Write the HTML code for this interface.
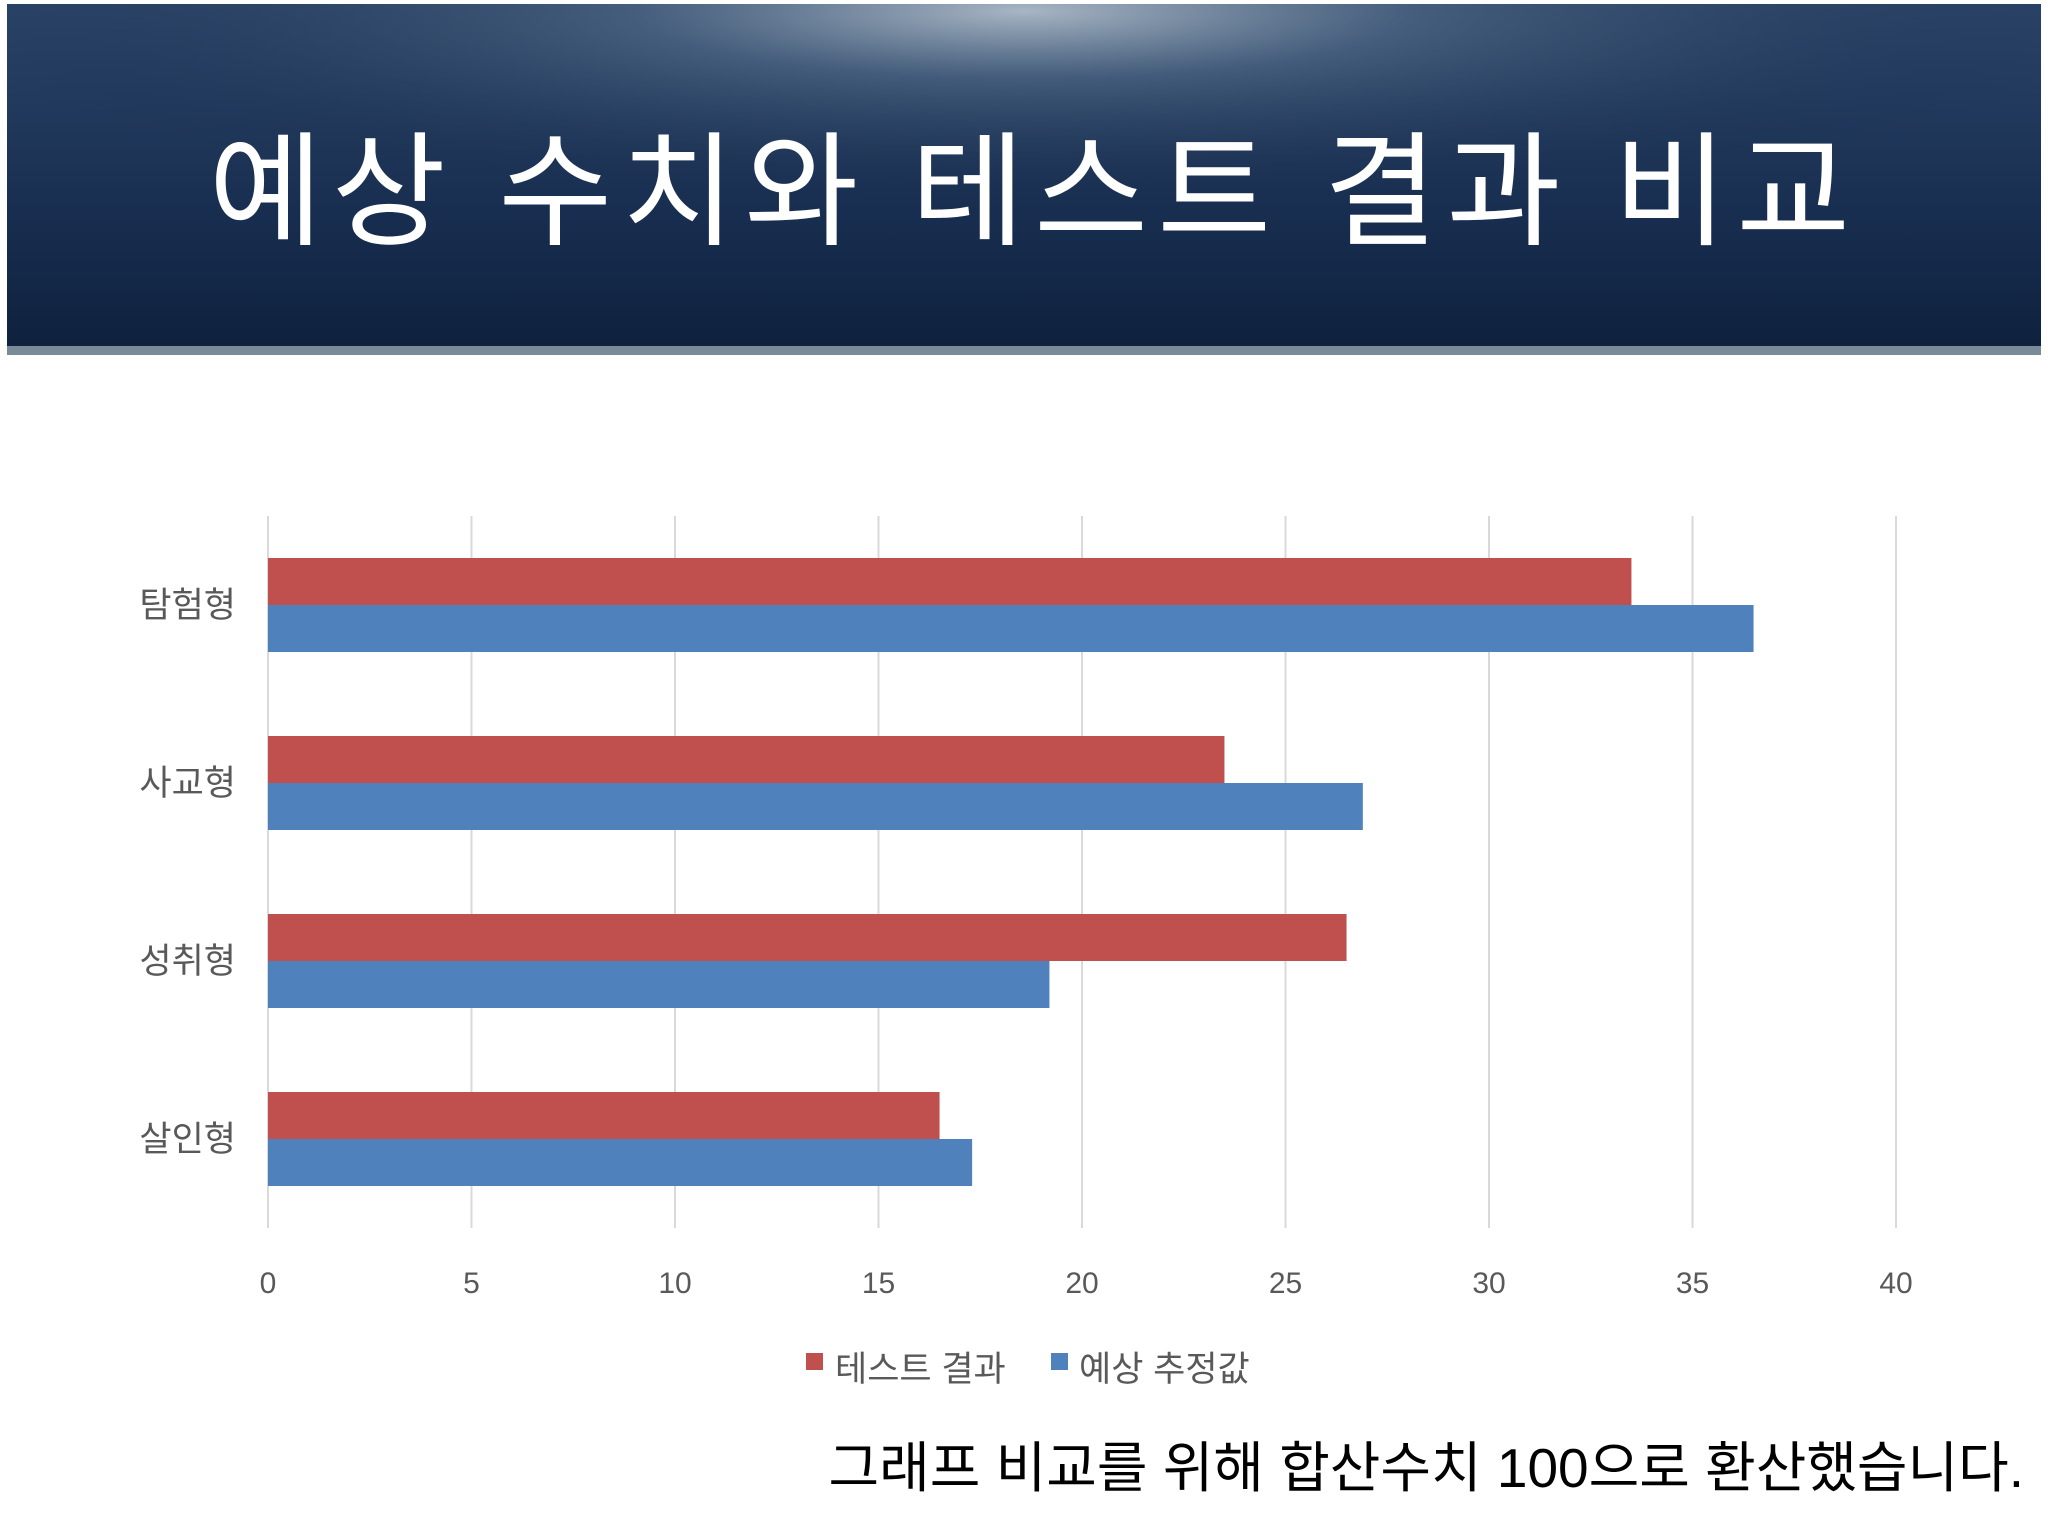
<!DOCTYPE html>
<html><head><meta charset="utf-8">
<style>
html,body{margin:0;padding:0;background:#fff;}
svg{display:block;font-family:"Liberation Sans","Noto Sans CJK KR",sans-serif;}
</style></head>
<body>
<svg id="chart" width="2048" height="1536" viewBox="0 0 2048 1536">
<defs>
<radialGradient id="glow" cx="0.5" cy="0.02" r="0.55">
<stop offset="0" stop-color="#a8b6c4"/>
<stop offset="0.35" stop-color="#4b6482" stop-opacity="0.8"/>
<stop offset="1" stop-color="#142a4a" stop-opacity="0"/>
</radialGradient>
<linearGradient id="bgv" x1="0" y1="0" x2="0" y2="1">
<stop offset="0" stop-color="#2a4468"/>
<stop offset="0.6" stop-color="#182e50"/>
<stop offset="1" stop-color="#0e203c"/>
</linearGradient>
</defs>
<g>
<rect x="7" y="4" width="2034" height="350" fill="url(#bgv)"/>
<rect x="7" y="4" width="2034" height="350" fill="url(#glow)"/>
<rect x="7" y="346" width="2034" height="9" fill="#7b8a99"/>
<text x="1034" y="235" text-anchor="middle" font-size="124" letter-spacing="9" fill="#ffffff">예상 수치와 테스트 결과 비교</text>
</g>
<g id="grid"></g>
<g id="bars"></g>
<g id="xticks"></g>
<g id="ycats"></g>
<g>
<rect x="806" y="1353" width="17" height="17" fill="#C0504D"/>
<text x="835" y="1381" font-size="35" fill="#595959">테스트 결과</text>
<rect x="1051" y="1353" width="17" height="17" fill="#4F81BD"/>
<text x="1079" y="1381" font-size="35" fill="#595959">예상 추정값</text>
</g>
<text x="2024" y="1487" text-anchor="end" font-size="55" fill="#000">그래프 비교를 위해 합산수치 100으로 환산했습니다.</text>
</svg>
<script>
const categories = ['탐험형','사교형','성취형','살인형'];
const testValues = [33.5, 23.5, 26.5, 16.5];
const estimateValues = [36.5, 26.9, 19.2, 17.3];
const tickLabels = [0,5,10,15,20,25,30,35,40];

const NS='http://www.w3.org/2000/svg';
const X0=268, X1=1896, XMAX=40, YTOP=516, YBOT=1228;
const xs=v=>X0+(X1-X0)*v/XMAX;
const band=(YBOT-YTOP)/categories.length;
const barH=47;
function mk(tag,attrs,parent){const e=document.createElementNS(NS,tag);for(const k in attrs)e.setAttribute(k,attrs[k]);parent.appendChild(e);return e;}
const grid=document.getElementById('grid'),bars=document.getElementById('bars'),xt=document.getElementById('xticks'),yc=document.getElementById('ycats');
tickLabels.forEach(t=>{
  const l=mk('line',{x1:xs(t),x2:xs(t),y1:YTOP,y2:YBOT,stroke:'#d9d9d9','stroke-width':2},grid);
  
  
  const tx=mk('text',{x:xs(t),y:1293,'text-anchor':'middle','font-size':30,fill:'#595959'},xt);
  tx.textContent=t;
  
  
});
categories.forEach((c,i)=>{
  const cy=YTOP+band*(i+0.5);
  const r=mk('rect',{x:X0,y:cy-barH,width:xs(testValues[i])-X0,height:barH,fill:'#C0504D'},bars);
  
  
  const b=mk('rect',{x:X0,y:cy,width:xs(estimateValues[i])-X0,height:barH,fill:'#4F81BD'},bars);
  
  
  const t=mk('text',{x:236,y:cy+12,'text-anchor':'end','font-size':35,fill:'#595959'},yc);
  t.textContent=c;
  
  
});
</script>
</body></html>
